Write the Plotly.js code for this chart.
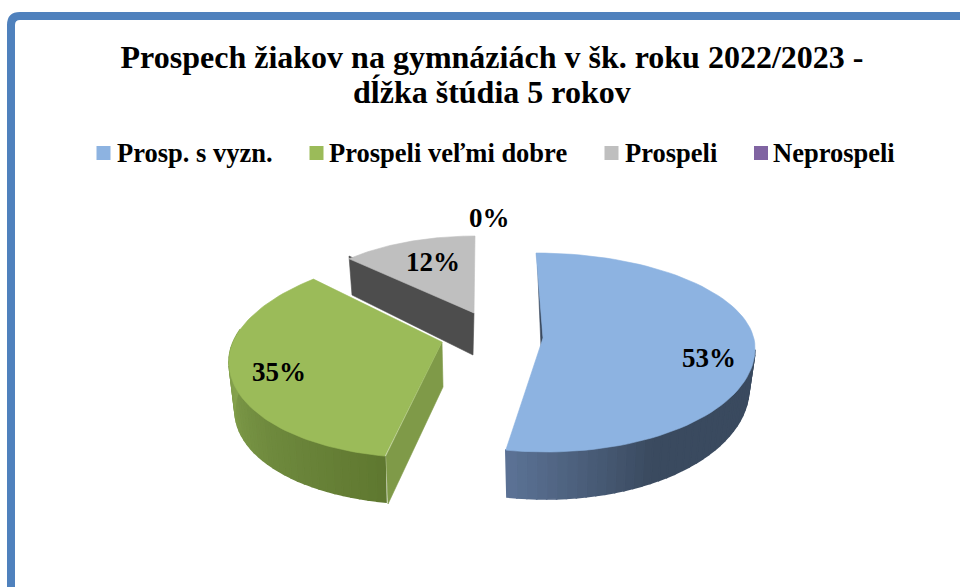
<!DOCTYPE html>
<html><head><meta charset="utf-8">
<script src="https://cdn.plot.ly/plotly-3.0.1.min.js"></script>
<style>html,body{margin:0;padding:0;background:#fff}#c{width:960px;height:587px}</style>
</head><body><div id="c"></div>
<script>
const categories = ['Prosp. s vyzn.', 'Prospeli veľmi dobre', 'Prospeli', 'Neprospeli'];
const values = [53, 35, 12, 0];
const faceColors = ['#8DB3E1', '#9BBB59', '#BFBFBF', '#8064A2'];
const titleLine1 = 'Prospech žiakov na gymnáziách v šk. roku 2022/2023 -';
const titleLine2 = 'dĺžka štúdia 5 rokov';
const legendX = [96.5, 309.5, 604.5, 754];
const legendTextX = [115, 327, 623, 771];
const labelPos = [[709, 358], [279, 372], [433, 262], [489, 218]];

// Projection of each exploded slice: top ellipse and bottom ellipse
const geo = [
 {tip:[543,338], cx:541, cy:346, rx:214, ryT:93, ryB:106, k:-5,
  bot:{cx:541, cy:385, rx:208, ryT:114, ryB:114, k:-5},
  wallFrom:92, wallStops:[[95,'#3A4A5F'],[150,'#3A4A5F'],[191,'#5C7396']],
  inner:[[537,253],[543,338],[541,347],[537,266]], innerColor:'#3A4A5F'},
 {tip:[442,342], cx:446, cy:352, rx:216, ryT:100, ryB:106, k:21,
  bot:{cx:446, cy:400, rx:210, ryT:100, ryB:104, k:21},
  wallFrom:190.8, wallTo:283, wallStops:[[191,'#5F7830'],[230,'#6F8A3E'],[283,'#8AA851']],
  inner:[[442,342],[443,387],[388,504],[386,456]], innerColor:'#7F9A48'},
 {tip:[474,313], cx:475, cy:320, rx:184, ryT:84, ryB:84, k:0,
  inner:[[349,256],[474,313],[473,355],[352,295]], innerColor:'#4D4D4D'},
 null
];

function pt(g, deg){
  const t = deg*Math.PI/180, c = Math.cos(t), s = Math.sin(t);
  return [g.cx + g.rx*s + g.k*c, g.cy - (c>0 ? g.ryT : g.ryB)*c];
}
function hex(c){return [1,3,5].map(i=>parseInt(c.substr(i,2),16));}
function stopColor(stops, d){
  if(d<=stops[0][0]) return stops[0][1];
  for(let i=1;i<stops.length;i++){
    if(d<=stops[i][0]){
      const f=(d-stops[i-1][0])/(stops[i][0]-stops[i-1][0]);
      const a=hex(stops[i-1][1]), b=hex(stops[i][1]);
      return 'rgb('+a.map((v,j)=>Math.round(v+(b[j]-v)*f)).join(',')+')';
    }
  }
  return stops[stops.length-1][1];
}
function poly(pts,color,lw){
  const xs=pts.map(p=>p[0]).concat(pts[0][0]), ys=pts.map(p=>p[1]).concat(pts[0][1]);
  return {type:'scatter',mode:'lines',x:xs,y:ys,fill:'toself',fillcolor:color,
          line:{color:color,width:lw},hoverinfo:'skip',showlegend:false};
}

const total = values.reduce((a,b)=>a+b,0);
const traces = [];
let start = 0;
values.forEach((v,i)=>{
  const a0 = start, a1 = start + v/total*360; start = a1;
  const g = geo[i];
  if(!g || v===0) return;
  if(g.inner) traces.push(poly(g.inner,g.innerColor,0.6));
  if(g.bot){
    const from = Math.max(a0,g.wallFrom), to = Math.min(a1,g.wallTo||a1), n=36;
    for(let j=0;j<n;j++){
      const d0=from+(to-from)*j/n, d1=from+(to-from)*(j+1)/n;
      traces.push(poly([pt(g,d0),pt(g,d1),pt(g.bot,d1),pt(g.bot,d0)],stopColor(g.wallStops,(d0+d1)/2),1.6));
    }
  }
  const face=[g.tip]; const n=80;
  for(let j=0;j<=n;j++) face.push(pt(g,a0+(a1-a0)*j/n));
  traces.push(poly(face,faceColors[i],0.6));
});

const font = 'Liberation Serif, Times New Roman, serif';
const annotations = values.map((v,i)=>({x:labelPos[i][0],y:labelPos[i][1],xref:'x',yref:'y',text:'<b>'+v+'%</b>',
  showarrow:false,xanchor:'center',yanchor:'middle',font:{family:font,size:27,color:'#000'}}))
 .concat(categories.map((c,i)=>({x:legendTextX[i],y:153,xref:'x',yref:'y',text:'<b>'+c+'</b>',
  showarrow:false,xanchor:'left',yanchor:'middle',font:{family:font,size:26.5,color:'#000'}})))
 .concat([{x:492,y:92,xref:'x',yref:'y',text:'<b>'+titleLine2+'</b>',showarrow:false,xanchor:'center',yanchor:'middle',
   font:{family:font,size:32,color:'#000'}}]);
const shapes = [{type:'path',xref:'x',yref:'y',
  path:'M 11 600 L 11 25 Q 11 16 20 16 L 970 16',line:{color:'#4F81BD',width:8},fillcolor:'rgba(0,0,0,0)'}]
 .concat(categories.map((c,i)=>({type:'rect',xref:'x',yref:'y',x0:legendX[i],x1:legendX[i]+14,y0:146,y1:160,
  fillcolor:faceColors[i],line:{width:0}})));

Plotly.newPlot('c',traces,{
  width:960,height:587,margin:{l:0,r:0,t:0,b:0},paper_bgcolor:'#fff',plot_bgcolor:'#fff',showlegend:false,
  title:{text:'<b>'+titleLine1+'</b>',x:492/960,xanchor:'center',y:0.884,yanchor:'bottom',yref:'container',
    font:{family:font,size:32,color:'#000'}},
  xaxis:{range:[0,960],visible:false,fixedrange:true},
  yaxis:{range:[587,0],visible:false,fixedrange:true},
  shapes:shapes,annotations:annotations
},{displayModeBar:false,staticPlot:true});
</script></body></html>
